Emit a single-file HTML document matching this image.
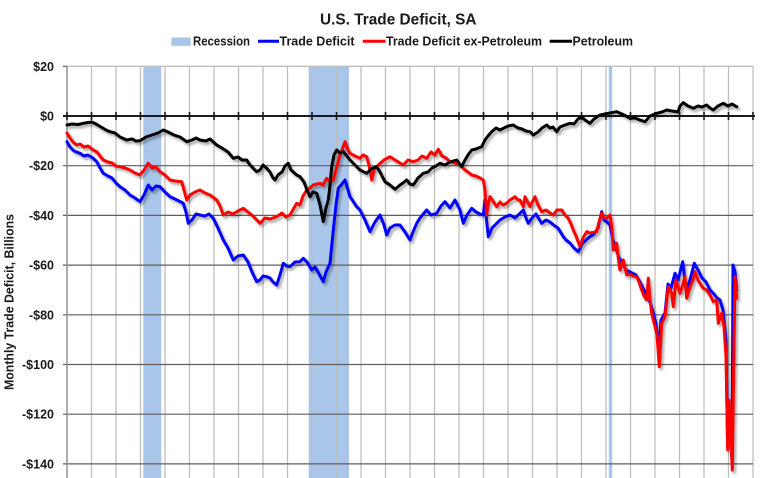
<!DOCTYPE html>
<html><head><meta charset="utf-8"><style>
html,body{margin:0;padding:0;background:#fff;}
svg{display:block;}
text{font-family:"Liberation Sans",Arial,sans-serif;font-weight:bold;fill:#1a1a1a;}
</style></head><body>
<svg width="768" height="478" viewBox="0 0 768 478" xmlns="http://www.w3.org/2000/svg">
<defs>
<filter id="sh" x="-5%" y="-5%" width="110%" height="115%">
<feDropShadow dx="2" dy="2.5" stdDeviation="1.2" flood-color="#000" flood-opacity="0.35"/>
</filter>
</defs>
<rect width="768" height="478" fill="#fff"/>
<!-- recession bands -->
<rect x="143.3" y="66" width="18" height="412" fill="#a9c6ea"/>
<rect x="308.7" y="66" width="40.3" height="412" fill="#a9c6ea"/>
<rect x="608.8" y="66" width="3.4" height="412" fill="#a9c6ea"/>
<!-- vertical gridlines -->
<g stroke="#bfbfbf" stroke-width="1.3">
<line x1="91.5" y1="66" x2="91.5" y2="478"/><line x1="116" y1="66" x2="116" y2="478"/><line x1="140.5" y1="66" x2="140.5" y2="478"/><line x1="165" y1="66" x2="165" y2="478"/><line x1="189.5" y1="66" x2="189.5" y2="478"/><line x1="214" y1="66" x2="214" y2="478"/><line x1="238.5" y1="66" x2="238.5" y2="478"/><line x1="263" y1="66" x2="263" y2="478"/><line x1="287.5" y1="66" x2="287.5" y2="478"/><line x1="312" y1="66" x2="312" y2="478"/><line x1="336.5" y1="66" x2="336.5" y2="478"/><line x1="361" y1="66" x2="361" y2="478"/><line x1="385.5" y1="66" x2="385.5" y2="478"/><line x1="410" y1="66" x2="410" y2="478"/><line x1="434.5" y1="66" x2="434.5" y2="478"/><line x1="459" y1="66" x2="459" y2="478"/><line x1="483.5" y1="66" x2="483.5" y2="478"/><line x1="508" y1="66" x2="508" y2="478"/><line x1="532.5" y1="66" x2="532.5" y2="478"/><line x1="557" y1="66" x2="557" y2="478"/><line x1="581.5" y1="66" x2="581.5" y2="478"/><line x1="606" y1="66" x2="606" y2="478"/><line x1="630.5" y1="66" x2="630.5" y2="478"/><line x1="655" y1="66" x2="655" y2="478"/><line x1="679.5" y1="66" x2="679.5" y2="478"/><line x1="704" y1="66" x2="704" y2="478"/><line x1="728.5" y1="66" x2="728.5" y2="478"/><line x1="753" y1="66" x2="753" y2="478"/>
<line x1="67" y1="66.3" x2="753" y2="66.3"/>
</g>
<!-- horizontal gridlines -->
<g stroke="#5f5f5f" stroke-width="1.2">
<line x1="63" y1="66.3" x2="67" y2="66.3"/>
<line x1="63" y1="165.7" x2="753" y2="165.7"/>
<line x1="63" y1="215.4" x2="753" y2="215.4"/>
<line x1="63" y1="265.1" x2="753" y2="265.1"/>
<line x1="63" y1="314.8" x2="753" y2="314.8"/>
<line x1="63" y1="364.5" x2="753" y2="364.5"/>
<line x1="63" y1="414.2" x2="753" y2="414.2"/>
<line x1="63" y1="463.9" x2="753" y2="463.9"/>
</g>
<line x1="67" y1="66" x2="67" y2="478" stroke="#8c8c8c" stroke-width="1.4"/>
<!-- zero axis -->
<line x1="63" y1="116" x2="755" y2="116" stroke="#1a1a1a" stroke-width="2"/>
<g stroke="#1a1a1a" stroke-width="1.6">
<line x1="67" y1="112" x2="67" y2="120"/><line x1="91.5" y1="112" x2="91.5" y2="120"/><line x1="116" y1="112" x2="116" y2="120"/><line x1="140.5" y1="112" x2="140.5" y2="120"/><line x1="165" y1="112" x2="165" y2="120"/><line x1="189.5" y1="112" x2="189.5" y2="120"/><line x1="214" y1="112" x2="214" y2="120"/><line x1="238.5" y1="112" x2="238.5" y2="120"/><line x1="263" y1="112" x2="263" y2="120"/><line x1="287.5" y1="112" x2="287.5" y2="120"/><line x1="312" y1="112" x2="312" y2="120"/><line x1="336.5" y1="112" x2="336.5" y2="120"/><line x1="361" y1="112" x2="361" y2="120"/><line x1="385.5" y1="112" x2="385.5" y2="120"/><line x1="410" y1="112" x2="410" y2="120"/><line x1="434.5" y1="112" x2="434.5" y2="120"/><line x1="459" y1="112" x2="459" y2="120"/><line x1="483.5" y1="112" x2="483.5" y2="120"/><line x1="508" y1="112" x2="508" y2="120"/><line x1="532.5" y1="112" x2="532.5" y2="120"/><line x1="557" y1="112" x2="557" y2="120"/><line x1="581.5" y1="112" x2="581.5" y2="120"/><line x1="606" y1="112" x2="606" y2="120"/><line x1="630.5" y1="112" x2="630.5" y2="120"/><line x1="655" y1="112" x2="655" y2="120"/><line x1="679.5" y1="112" x2="679.5" y2="120"/><line x1="704" y1="112" x2="704" y2="120"/><line x1="728.5" y1="112" x2="728.5" y2="120"/><line x1="753" y1="112" x2="753" y2="120"/>
</g>
<!-- series -->
<g fill="none" stroke-width="3" stroke-linejoin="round" stroke-linecap="round" filter="url(#sh)">
<polyline stroke="#0000ff" points="67,141.7 70,147 74,151 80,153.3 84,156 88,155 93.3,158.3 97,162 100,168 103.3,173.3 108,176 112,178 116,183 120,186.7 125,190 130,195 135,198 140,201.7 144,195 148.3,185 152,190 156,186 160,186.7 165,192 170,196.7 175,199 179,201 183.3,203.3 186,212 188.3,223.3 192,220 196,214 200,215 205,216 209,214 213.3,218.3 218,228 223.3,240 228,248 233.3,260 238,256 243.3,255 248,262 252,272 256.7,281.7 260,280 263,276 266.7,276.7 270,278 273,282 276.7,285 280,275 283.3,263.3 287,266 290,266.7 295,262 300,261.7 303.3,258.3 307,262 311.7,270 315,267 318,272 323.3,281.7 326,272 330,263.3 333.3,230 336,205 338.3,188.3 342,184 345,180 348,190 350,196.7 356.7,206.7 360,210 365,220 370,231.7 375,222 380,215 384,225 386.7,235 390,228 395,225 400,225 405,232 410,240 413,232 416.7,223.3 420,218 426.7,210 431,215 436.7,213.3 441,206 445,201.7 450,208 455,200 460,210 463.3,223.3 467,215 471.7,208.3 476,212 480,214 483.3,215 485,200 486.5,220 488.3,236.7 492,228 496.7,223.3 500,220 505,217 510,215 515,218 520,213.3 523.3,210 526,218 528.3,223.3 532,218 536,214 541.7,223.3 546,220 550,222 555,226 558,228 563.3,236.7 566,240 570,243 574,248 578.3,251.7 582,244 586,240 590,236.7 594,234 598,228 601.7,211.7 604,220 607,222 610,225 613,240 616,248 619,258 622,262 626,270 630,272 636,275 640,282 644,290 647,296 650,302 653,312 656,324 659,350 661,320 665,313 668,284 671,288 675,273.3 678,280 682.7,261.7 686,290 690,280 694.3,263.3 698,270 702,278 706,282 710,290 714,294 717,298 720,300 723,310 726,340 727.5,440 730,423.3 732,460 733,265 735,272 736.7,290"/>
<polyline stroke="#ff0000" points="67,133 70,138 73,142 76.7,145 80,144 84,147 88,146 93.3,150 97,152 100,156 103.3,160 108,162 112,163 116,166 120,166.7 125,168 130,170 135,173 140,175 144,170 148.3,163.3 152,168 156,167 160,171.7 165,175 170,180 175,181 181.7,181.7 184,190 186.7,200 190,195 195,192 200,190 205,193 210,195 216.7,200 220,206 223.3,215 228,212 233,214 238,211 243.3,208.3 248,212 253,216 260,223.3 265,218 270,219 276.7,216.7 282,213 286,217 290,215 296.7,203.3 300,205 303,196 306.7,190 310,188 313.3,185 320,183.3 323,185 326.7,178.3 330,182 333.3,180 336,170 340,155 342,150 345,141.7 348,150 350,153.3 355,156 360,158.3 363,155 366.7,156.7 369,165 371.7,180 374,170 378.3,165 384,160 390,156.7 395,160 400,163 403.3,165 408,160 413.3,161.7 418,160 422,156 426.7,158.3 431,152 435,155 438.3,149.3 442,156 446,158 450,161.7 455,163 460,165 465,170 468,172 471.7,175 476,176 480,178 483.3,180 485,190 486.7,215 488,205 490,196.7 493,201 496.7,206.7 500,202 503,205 506.7,203.3 510,200 515,196.7 518,200 520,200 523.3,206.7 525,196.7 530,206.7 535,196.7 538,205 541.7,211.7 546,210 550,213 553.3,215 557,210 561.7,210 565,215 568.3,218.3 571,224 573.3,230 576,236 580,246.7 583,238 586.7,231.7 590,233 596.7,231.7 599,222 601.7,213.3 604,218 606.7,218.3 610,215 612,228 613.3,250 616.7,243.3 618,256 620,270 623.3,260 626.7,275 630,274 633,276 636.7,276.7 639,282 641.7,290 644,296 646.7,300 648.3,278.3 650,300 651.7,313.3 655,326.7 657,335 659.3,366.7 661.7,323.3 665,316.7 668.3,286.7 671.7,293.3 673.3,306.7 676,280 680,293.3 683,284 685,276.7 686.7,298.3 690,287 693,280 695,271.7 698,280 700,283.3 703,288 706.7,290 710,295 713.3,301.7 716.7,300 718.3,323.3 721.7,313.3 724,326.7 726,356.7 727.7,450 729,400 730,416.7 731,440 732.3,470 733.5,380 735,276.7 736.7,298.3"/>
<polyline stroke="#000000" points="67,125 72,124 78,124.5 85,123 91.7,122 96,124 101,127 106,130 110,131.7 115,133 120,137 126.7,140 132,139 136,141 140,140.7 146,137 152,135 158,133 163.3,130 168,132 174,135 180,137 186.7,141.7 192,140 196,138 200,140 206,141 210,139 216.7,145 222,148 228,152 233.3,158.3 238,157 242,160 246.7,160 250,165 253,168 256.7,171.7 260,170 263,165 266.7,168.3 270,172 273,178 275,180 278,175 282,172 285,166 288.3,163.3 291,170 296.7,175 300,176.7 304,182 307,190 310,196.7 313,192 316.7,193.3 320,205 323.3,221.7 326,208 328.3,200 330,185 331.7,166.7 334,155 336.7,150 340,153 343.3,151.7 347,156 350,160 355,165 360,170 366.7,173.3 370,170 373,168 376.7,166.7 380,172 383,178 385,181.7 390,185 395,189.3 400,185 403,183 406.7,180 410,184 413.3,185 418,178 423.3,173.3 428,172 432,168 436,166 440,163.3 445,165 450,162 456.7,160 461.7,166.7 465,160 468,155 471.7,150 476,149 481.7,146.7 485,140 488,136 491.7,131.7 496,128 500,130 503.3,128.3 508,126 513.3,125 518,128 522,129 526,131 530,131.7 533.3,135 538,132 542,128 546.7,125 550,128 553,127 556.7,131.7 560,127 565,125 570,123.3 574,124 578,119 581.7,116.7 585,120 590,123.3 594,119 600,115 605,114 610,113 616.7,111.7 622,114 626,116 630,118.3 635,118 640,120 645,121.7 650,116 656.7,113.3 662,112 666.7,110 672,111 678,112 680,106 683.3,102.7 688,106 693.3,108.3 698,106 702,107 706.7,105 710,108 713.3,110 718,106 723.3,103.3 728,106 732,104 736.7,106.7"/>
</g>
<!-- y labels -->
<g font-size="12.5" text-anchor="end">
<text x="54" y="70.8">$20</text>
<text x="54" y="120.5">$0</text>
<text x="54" y="170.2">-$20</text>
<text x="54" y="219.9">-$40</text>
<text x="54" y="269.6">-$60</text>
<text x="54" y="319.3">-$80</text>
<text x="54" y="369">-$100</text>
<text x="54" y="418.7">-$120</text>
<text x="54" y="468.4">-$140</text>
</g>
<text transform="translate(13.5,302) rotate(-90)" text-anchor="middle" font-size="13" textLength="176" lengthAdjust="spacingAndGlyphs">Monthly Trade Deficit, Billions</text>
<!-- title -->
<text x="320" y="24.3" font-size="16" textLength="156.5" lengthAdjust="spacingAndGlyphs">U.S. Trade Deficit, SA</text>
<!-- legend -->
<rect x="171.3" y="37.5" width="19.4" height="8.3" fill="#a9c6ea"/>
<text x="193" y="45.6" font-size="13" textLength="57" lengthAdjust="spacingAndGlyphs">Recession</text>
<line x1="258" y1="41.3" x2="279" y2="41.3" stroke="#0000ff" stroke-width="3"/>
<text x="279.5" y="45.6" font-size="13" textLength="75" lengthAdjust="spacingAndGlyphs">Trade Deficit</text>
<line x1="362.7" y1="41.3" x2="385.5" y2="41.3" stroke="#ff0000" stroke-width="3"/>
<text x="386" y="45.6" font-size="13" textLength="156" lengthAdjust="spacingAndGlyphs">Trade Deficit ex-Petroleum</text>
<line x1="549.7" y1="41.3" x2="572" y2="41.3" stroke="#000" stroke-width="3"/>
<text x="572.5" y="45.6" font-size="13" textLength="60.5" lengthAdjust="spacingAndGlyphs">Petroleum</text>
</svg>
</body></html>
